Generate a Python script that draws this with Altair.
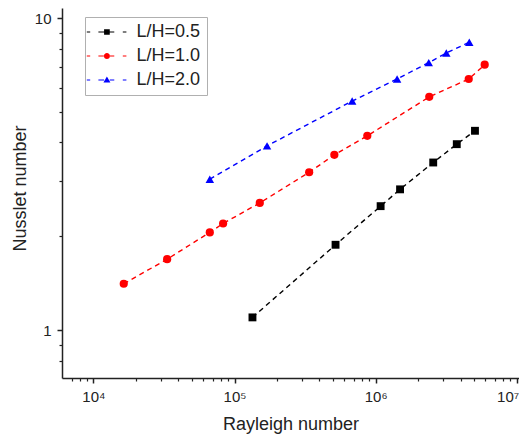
import altair as alt
import pandas as pd

series = ["L/H=0.5", "L/H=1.0", "L/H=2.0"]
colors = ["#000000", "#ff0000", "#0000ff"]
shapes = ["square", "circle", "triangle-up"]
marker_sizes = [62, 72, 84]

ra_05 = [1.34e5, 5.2e5, 1.085e6, 1.49e6, 2.56e6, 3.76e6, 5.06e6]
nu_05 = [1.10, 1.88, 2.50, 2.83, 3.45, 3.95, 4.36]
ra_10 = [1.64e4, 3.33e4, 6.68e4, 8.3e4, 1.51e5, 3.38e5, 5.1e5, 8.73e5, 2.4e6, 4.57e6, 5.93e6]
nu_10 = [1.41, 1.69, 2.06, 2.20, 2.56, 3.21, 3.65, 4.20, 5.60, 6.39, 7.10]
ra_20 = [6.68e4, 1.70e5, 6.82e5, 1.42e6, 2.38e6, 3.17e6, 4.61e6]
nu_20 = [3.05, 3.90, 5.43, 6.39, 7.21, 7.74, 8.38]

x_major = [1e4, 1e5, 1e6, 1e7]
x_minor = [7e3, 8e3, 9e3,
           2e4, 3e4, 4e4, 5e4, 6e4, 7e4, 8e4, 9e4,
           2e5, 3e5, 4e5, 5e5, 6e5, 7e5, 8e5, 9e5,
           2e6, 3e6, 4e6, 5e6, 6e6, 7e6, 8e6, 9e6]
y_major = [1, 10]
y_minor = [0.8, 0.9, 2, 3, 4, 5, 6, 7, 8, 9]

# legend symbols: dashed line with marker (unit coords)
dashes = ("M-3.3,-0.14H-2.45V0.14H-3.3Z M-0.4,-0.14H1.02V0.14H-0.4Z "
          "M2.44,-0.14H3.57V0.14H2.44Z M5.7,-0.14H6.6V0.14H5.7Z ")
legend_paths = [
    dashes + "M1.02,-0.71H2.44V0.71H1.02Z",
    dashes + "M0.97,0A0.76,0.76,0,1,0,2.49,0A0.76,0.76,0,1,0,0.97,0Z",
    dashes + "M1.73,-0.85L2.6,0.65L0.86,0.65Z",
]

rows = []
for s, ras, nus in zip(series, [ra_05, ra_10, ra_20], [nu_05, nu_10, nu_20]):
    for r, n in zip(ras, nus):
        rows.append({"series": s, "ra": r, "nu": n})
df = pd.DataFrame(rows)

FONT = "Liberation Sans"
AX = "#222222"

xscale = alt.Scale(type="log", domain=[5987, 1.038e7], nice=False)
yscale = alt.Scale(type="log", domain=[0.7033, 10.79], nice=False)
cscale = alt.Scale(domain=series, range=colors)

x_axis_major = alt.Axis(
    orient="bottom", values=x_major, grid=False,
    labelExpr="'10' + ['⁰','¹','²','³','⁴','⁵','⁶','⁷','⁸'][round(log(datum.value)/LN10)]",
    tickSize=5, tickWidth=1.5, tickColor=AX, domainColor=AX, domainWidth=1.5,
    labelFont=FONT, labelFontSize=15, labelColor=AX, labelPadding=6,
    labelFlush=5, labelFlushOffset=2,
    title="Rayleigh number", titleFont=FONT, titleFontSize=18, titleFontWeight="normal",
    titleColor=AX, titleBaseline="alphabetic", titleY=51,
)
x_axis_minor = alt.Axis(
    orient="bottom", values=x_minor, grid=False, labels=False, domain=False,
    tickSize=3, tickWidth=1.2, tickColor=AX, title=None,
)
y_axis_major = alt.Axis(
    orient="left", values=y_major, grid=False, format="d",
    tickSize=5, tickWidth=1.5, tickColor=AX, domainColor=AX, domainWidth=1.5,
    labelFont=FONT, labelFontSize=15, labelColor=AX, labelPadding=6,
    title="Nusslet number", titleFont=FONT, titleFontSize=18, titleFontWeight="normal",
    titleColor=AX, titleAngle=270, titleBaseline="alphabetic", titleAlign="center",
    titleX=-37, titleY=180,
)
y_axis_minor = alt.Axis(
    orient="left", values=y_minor, grid=False, labels=False, domain=False,
    tickSize=3, tickWidth=1.2, tickColor=AX, title=None,
)

lines = alt.Chart(df).mark_line(strokeDash=[5, 4], strokeWidth=1.4).encode(
    x=alt.X("ra:Q", scale=xscale, axis=x_axis_major),
    y=alt.Y("nu:Q", scale=yscale, axis=y_axis_major),
    color=alt.Color("series:N", scale=cscale, legend=None),
    order="ra:Q",
)

points = alt.Chart(df).mark_point(filled=True, opacity=1).encode(
    x=alt.X("ra:Q", scale=xscale, axis=x_axis_minor),
    y=alt.Y("nu:Q", scale=yscale, axis=y_axis_minor),
    color=alt.Color("series:N", scale=cscale, legend=None),
    shape=alt.Shape("series:N", scale=alt.Scale(domain=series, range=shapes), legend=None),
    size=alt.Size("series:N", scale=alt.Scale(domain=series, range=marker_sizes), legend=None),
)

leg = dict(
    orient="none", legendX=23, legendY=9, title=None, padding=6, rowPadding=6,
    labelFont=FONT, labelFontSize=18, labelColor=AX, labelOffset=27.5,
    symbolSize=64, symbolStrokeWidth=0, symbolOpacity=1,
    strokeColor="#b0b0b0", fillColor="white",
)
legend_layer = alt.Chart(df).mark_point(filled=True, opacity=0).encode(
    x=alt.X("ra:Q", scale=xscale, axis=None),
    y=alt.Y("nu:Q", scale=yscale, axis=None),
    color=alt.Color("series:N", scale=cscale, legend=alt.Legend(**leg)),
    shape=alt.Shape("series:N", scale=alt.Scale(domain=series, range=legend_paths),
                    legend=alt.Legend(**leg)),
)

chart = alt.layer(lines, points, legend_layer).resolve_scale(
    color="independent", shape="independent"
).resolve_axis(
    x="independent", y="independent"
).properties(
    width=457, height=370,
    autosize=alt.AutoSizeParams(type="none"),
    padding={"left": 54, "top": 0, "right": 0, "bottom": 56},
).configure(font=FONT).configure_view(strokeWidth=0)

chart.save("out.html", embed_options={"renderer": "svg", "actions": False})
